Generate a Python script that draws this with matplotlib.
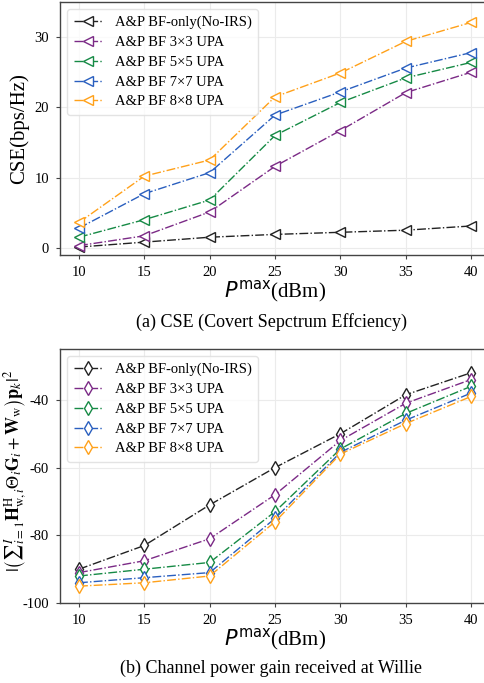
import matplotlib.pyplot as plt
import numpy as np

plt.rcParams['font.family'] = 'serif'
plt.rcParams['font.serif'] = ['Liberation Serif', 'DejaVu Serif']
plt.rcParams['mathtext.fontset'] = 'stix'

p_max = [10, 15, 20, 25, 30, 35, 40]
etiquetas = ['A&P BF-only(No-IRS)', 'A&P BF 3×3 UPA', 'A&P BF 5×5 UPA',
             'A&P BF 7×7 UPA', 'A&P BF 8×8 UPA']
colores = ['#222222', '#7B2A86', '#168A45', '#2A5FBF', '#FFA11A']

cse_no_irs = [0.1, 0.8, 1.5, 1.9, 2.2, 2.5, 3.1]
cse_3x3 = [0.3, 1.7, 5.1, 11.6, 16.7, 22.1, 25.0]
cse_5x5 = [1.5, 4.0, 6.8, 16.0, 20.7, 24.2, 26.4]
cse_7x7 = [2.8, 7.7, 10.7, 18.9, 22.2, 25.6, 27.8]
cse_8x8 = [3.6, 10.2, 12.5, 21.5, 24.9, 29.4, 32.1]

gan_no_irs = [-90, -83, -71, -60, -50, -38.5, -32]
gan_3x3 = [-91, -87.5, -81, -68, -52, -41, -34]
gan_5x5 = [-92, -90, -88, -73, -54.5, -44, -36]
gan_7x7 = [-94, -92.5, -91, -75, -55.5, -46, -38]
gan_8x8 = [-95, -94, -92, -76, -56, -47, -39]

cse = [cse_no_irs, cse_3x3, cse_5x5, cse_7x7, cse_8x8]
ganancia = [gan_no_irs, gan_3x3, gan_5x5, gan_7x7, gan_8x8]

fig = plt.figure(figsize=(4.84, 6.83), dpi=100)
ax1 = fig.add_axes([0.124, 0.627, 0.89, 0.370])
ax2 = fig.add_axes([0.124, 0.117, 0.89, 0.372])


def estilo(ax):
    ax.grid(True, color='#EBEBEB', linewidth=0.8)
    ax.set_axisbelow(True)
    for s in ax.spines.values():
        s.set_color('#444444')
        s.set_linewidth(1.0)
    ax.tick_params(labelsize=10.5, length=3, color='#444444', pad=5)
    ax.set_xticks(p_max)
    ax.set_xlim(8.55, 41.5)
    ax.set_xlabel(r'$P^{\mathrm{max}}$(dBm)', fontsize=15, labelpad=0,
                  math_fontfamily='dejavusans')
    ax.legend(loc='upper left', fontsize=10.5, handlelength=2.0,
              labelspacing=0.45, borderpad=0.45, framealpha=0.8,
              edgecolor='#DDDDDD', fancybox=True)


for y, lab, c in zip(cse, etiquetas, colores):
    ax1.plot(p_max, y, linestyle='-.', color=c, linewidth=1.0, marker='<',
             markersize=7, markerfacecolor='white', markeredgecolor=c,
             markeredgewidth=1.0, label=lab)
ax1.set_ylim(-1, 35)
ax1.set_yticks([0, 10, 20, 30])
ax1.set_ylabel('CSE(bps/Hz)', fontsize=15, labelpad=4)
estilo(ax1)

for y, lab, c in zip(ganancia, etiquetas, colores):
    ax2.plot(p_max, y, linestyle='-.', color=c, linewidth=1.0, marker='d',
             markersize=7.5, markerfacecolor='white', markeredgecolor=c,
             markeredgewidth=1.0, label=lab)
ax2.set_ylim(-100, -25)
ax2.set_yticks([-100, -80, -60, -40])
ax2.set_yticklabels(['-100', '-80', '-60', '-40'])
ax2.set_ylabel(r'$|\left({\sum}_{i=1}^{I}\mathbf{H}_{\mathrm{w},i}^{\mathrm{H}}'
               r'\Theta_i\mathbf{G}_i+\mathbf{W}_{\mathrm{w}}\right)\mathbf{p}_k|^2$',
               fontsize=13)
ax2.yaxis.set_label_coords(-0.072, 0.52)
estilo(ax2)

fig.text(0.56, 0.528, '(a) CSE (Covert Sepctrum Effciency)', ha='center',
         va='center', fontsize=13)
fig.text(0.56, 0.022, '(b) Channel power gain received at Willie', ha='center',
         va='center', fontsize=13)

fig.savefig('out.png', dpi=100)
